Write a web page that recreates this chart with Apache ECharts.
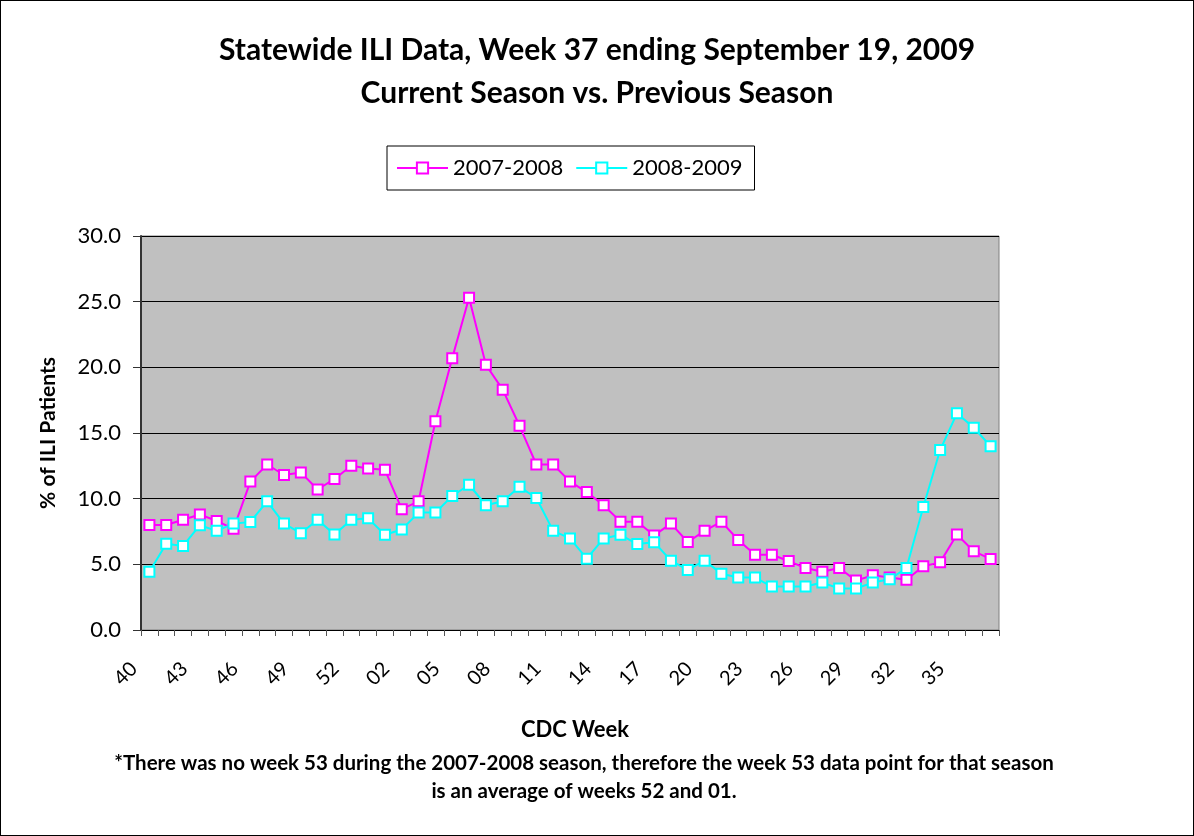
<!DOCTYPE html>
<html>
<head>
<meta charset="utf-8">
<script src="https://cdn.jsdelivr.net/npm/echarts@6/dist/echarts.min.js"></script>
<style>
html,body{margin:0;padding:0;background:#fff;}
#wrap{position:absolute;left:0;top:0;width:1192px;height:834px;border:1px solid #000;}
#chart{width:1192px;height:834px;}
</style>
</head>
<body>
<div id="wrap"><div id="chart"></div></div>
<script>
const weeks = ['40','41','42','43','44','45','46','47','48','49','50','51','52','53',
  '01','02','03','04','05','06','07','08','09','10','11','12','13','14','15','16','17','18','19','20',
  '21','22','23','24','25','26','27','28','29','30','31','32','33','34','35','36','37'];
const season0708 = [8.0,8.0,8.4,8.8,8.3,7.7,11.3,12.6,11.8,12.0,10.7,11.5,12.5,12.3,12.2,9.2,9.8,15.9,
  20.7,25.3,20.2,18.3,15.55,12.6,12.6,11.3,10.5,9.5,8.25,8.25,7.2,8.1,6.7,7.55,8.25,
  6.85,5.73,5.73,5.25,4.72,4.44,4.72,3.76,4.17,4.0,3.83,4.85,5.15,7.27,6.0,5.4];
const season0809 = [4.44,6.56,6.4,7.98,7.55,8.1,8.23,9.8,8.1,7.37,8.4,7.27,8.4,8.5,7.25,7.65,8.94,8.94,
  10.2,11.06,9.5,9.8,10.9,10.05,7.55,6.97,5.43,6.97,7.25,6.54,6.69,5.28,4.57,5.28,4.29,
  3.99,3.99,3.31,3.31,3.31,3.61,3.16,3.16,3.61,3.86,4.72,9.37,13.7,16.5,15.4,14.0];
const seriesNames = ['2007-2008','2008-2009'];
const titleLines = ['Statewide ILI Data, Week 37 ending September 19, 2009','Current Season vs. Previous Season'];
const footnoteLines = ['*There was no week 53 during the 2007-2008 season, therefore the week 53 data point for that season','is an average of weeks 52 and 01.'];

const FONT = 'Lato';
const chart = echarts.init(document.getElementById('chart'));
function mkSeries(name, data, color){
  return {
    name, type:'line', data, symbol:'rect', symbolSize:10,
    lineStyle:{color, width:2},
    itemStyle:{color:'#fff', borderColor:color, borderWidth:2},
    emphasis:{disabled:true}, animation:false
  };
}
chart.setOption({
  animation:false,
  textStyle:{fontFamily:FONT},
  title:[
    {text:titleLines[0], left:'center', top:29, textStyle:{fontFamily:FONT,fontWeight:'bold',fontSize:30,color:'#000'}},
    {text:titleLines[1], left:'center', top:72, textStyle:{fontFamily:FONT,fontWeight:'bold',fontSize:30,color:'#000'}},
    {text:'CDC Week', left:569, textAlign:'center', top:713, textStyle:{fontFamily:FONT,fontWeight:'bold',fontSize:22,color:'#000'}},
    {text:footnoteLines[0], left:578, textAlign:'center', top:747, textStyle:{fontFamily:FONT,fontWeight:'bold',fontSize:20.5,color:'#000'}},
    {text:footnoteLines[1], left:578, textAlign:'center', top:775, textStyle:{fontFamily:FONT,fontWeight:'bold',fontSize:20.5,color:'#000'}}
  ],
  legend:{
    data:seriesNames, left:386, top:145, itemWidth:51, itemHeight:14, itemGap:12,
    padding:[11,12,11,9], borderColor:'#000', borderWidth:1,
    textStyle:{fontFamily:FONT,fontSize:22,color:'#000'}
  },
  grid:{left:140, right:194, top:235, bottom:205, show:true, backgroundColor:'#C0C0C0', borderColor:'#808080', borderWidth:1},
  xAxis:{
    type:'category', data:weeks, boundaryGap:true,
    axisLine:{lineStyle:{color:'#000',width:1}},
    axisTick:{show:true, length:6, interval:0, lineStyle:{color:'#555'}},
    axisLabel:{interval:2, rotate:45, fontSize:20, color:'#000', fontFamily:FONT, margin:20, padding:[0,22,0,0]},
    splitLine:{show:false}
  },
  yAxis:{
    type:'value', min:0, max:30, interval:5,
    name:'% of ILI Patients', nameLocation:'middle', nameGap:82, nameRotate:90,
    nameTextStyle:{fontFamily:FONT,fontWeight:'bold',fontSize:21,color:'#000'},
    axisLine:{show:true, lineStyle:{color:'#333',width:2}},
    axisTick:{show:true, length:8, lineStyle:{color:'#333'}},
    axisLabel:{formatter:v=>v.toFixed(1), fontSize:22, color:'#000', fontFamily:FONT, margin:20},
    splitLine:{lineStyle:{color:'#000',width:1}}
  },
  series:[mkSeries(seriesNames[0], season0708, '#FF00FF'), mkSeries(seriesNames[1], season0809, '#00FFFF')]
});
</script>
</body>
</html>
